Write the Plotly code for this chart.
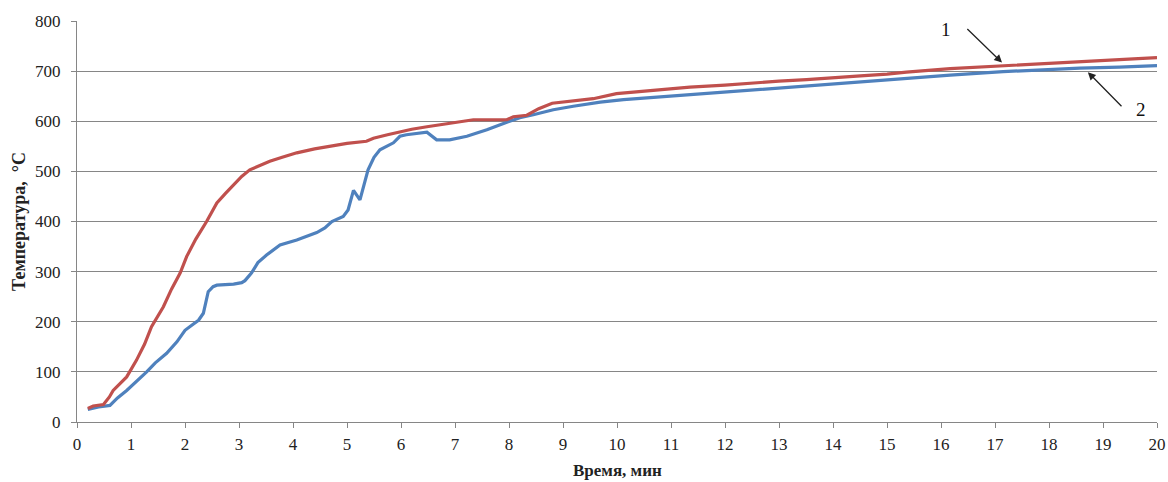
import plotly.graph_objects as go

# Curve 1 (red)
t1 = [0.20, 0.30, 0.49, 0.60, 0.67, 0.80, 0.92, 1.10, 1.25, 1.38, 1.50, 1.60, 1.75, 1.91, 2.03,
      2.20, 2.40, 2.59, 2.75, 2.90, 3.05, 3.20, 3.40, 3.57, 3.80, 4.07, 4.40, 4.75, 5.00, 5.36,
      5.49, 5.75, 5.98, 6.20, 6.48, 6.90, 7.34, 7.96, 8.08, 8.33, 8.55, 8.80, 9.19, 9.56, 9.99,
      10.5, 11.35, 12.0, 12.59, 13.0, 13.51, 14.0, 14.44, 15.0, 15.36, 16.17, 17.15, 17.83,
      18.57, 19.3, 20.0]
T1 = [27, 32, 35, 50, 63, 76, 90, 123, 155, 190, 212, 230, 265, 297, 330,
      365, 400, 437, 456, 473, 490, 503, 513, 520, 528, 537, 545, 552, 556, 560,
      566, 573, 579, 584, 589, 596, 603, 603, 609, 612, 625, 636, 640, 645, 655,
      660, 668, 672, 677, 680, 683, 686, 690, 694, 698, 705, 711, 715,
      719, 723, 727]

# Curve 2 (blue)
t2 = [0.20, 0.40, 0.61, 0.75, 0.92, 1.10, 1.29, 1.45, 1.66, 1.85, 2.00, 2.15, 2.25, 2.34, 2.43,
      2.52, 2.59, 2.90, 3.05, 3.11, 3.23, 3.35, 3.51, 3.76, 4.07, 4.44, 4.59, 4.72, 4.93, 5.02,
      5.12, 5.24, 5.39, 5.50, 5.61, 5.86, 5.98, 6.10, 6.48, 6.66, 6.90, 7.22, 7.59, 7.96, 8.20,
      8.45, 8.82, 9.19, 9.69, 10.12, 11.35, 12.59, 13.82, 15.36, 16.17, 17.15, 17.83, 18.57,
      19.3, 20.0]
T2 = [25, 30, 33, 48, 63, 80, 100, 118, 137, 160, 183, 195, 203, 217, 260,
      270, 273, 275, 278, 282, 297, 318, 333, 353, 363, 378, 387, 400, 410, 423,
      462, 443, 503, 528, 543, 557, 570, 573, 578, 563, 563, 570, 583, 598, 607,
      613, 623, 630, 638, 643, 653, 663, 673, 687, 692, 699, 703, 706,
      708, 711]

x_ticks = list(range(0, 21))
y_ticks = list(range(0, 801, 100))

SERIF = "Liberation Serif, Times New Roman, serif"

fig = go.Figure()
fig.add_trace(go.Scatter(x=t2, y=T2, mode="lines", line=dict(color="#4F81BD", width=3.2),
                         showlegend=False))
fig.add_trace(go.Scatter(x=t1, y=T1, mode="lines", line=dict(color="#C0504D", width=3.2),
                         showlegend=False))

fig.update_layout(
    width=1168, height=482,
    margin=dict(l=77, r=11, t=21, b=60),
    paper_bgcolor="white", plot_bgcolor="white",
    font=dict(family=SERIF, size=17, color="#222"),
    xaxis=dict(range=[0, 20], tickvals=x_ticks, showgrid=False, zeroline=False, automargin=False,
               showline=True, linecolor="#868686", linewidth=1, ticklabeloverflow="allow",
               ticks="outside", ticklen=5, tickcolor="#868686", ticklabelstandoff=2),
    yaxis=dict(range=[0, 800], tickvals=y_ticks, showgrid=True, gridcolor="#868686", gridwidth=1,
               zeroline=False, showline=True, linecolor="#868686", linewidth=1, automargin=False,
               ticks="outside", ticklen=5, tickcolor="#868686", ticklabelstandoff=7,
               title=dict(text="<b>Температура,  °C</b>", font=dict(family=SERIF, size=18), standoff=4)),
)

# x-axis title
fig.add_annotation(xref="paper", yref="paper", x=0.5, y=-0.12, yanchor="middle",
                   text="<b>Время, мин</b>", showarrow=False, font=dict(family=SERIF, size=17, color="#222"))

# labels and arrows
fig.add_annotation(x=16.1, y=783, text="1", showarrow=False, font=dict(family=SERIF, size=19, color="#111"))
fig.add_annotation(x=17.13, y=717, ax=16.46, ay=787, axref="x", ayref="y", text="",
                   showarrow=True, arrowhead=2, arrowsize=1.2, arrowwidth=1.3, arrowcolor="#222")
fig.add_annotation(x=19.7, y=623, text="2", showarrow=False, font=dict(family=SERIF, size=19, color="#111"))
fig.add_annotation(x=18.72, y=698, ax=19.37, ay=627, axref="x", ayref="y", text="",
                   showarrow=True, arrowhead=2, arrowsize=1.2, arrowwidth=1.3, arrowcolor="#222")

fig.write_html("out.html", config={"displayModeBar": False},
               post_script="document.body.style.margin='0';document.body.style.overflow='hidden';")
